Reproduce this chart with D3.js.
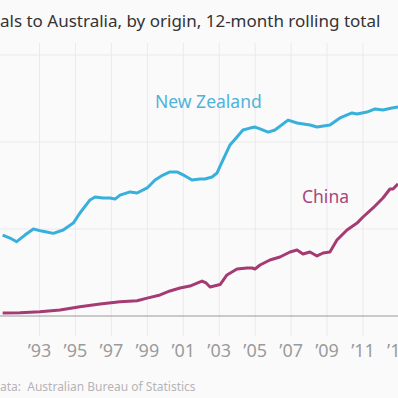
<!DOCTYPE html>
<html>
<head>
<meta charset="utf-8">
<script src="https://cdn.jsdelivr.net/npm/d3@7"></script>
<style>
  html, body { margin: 0; padding: 0; background: #fbfafb; }
  svg { display: block; font-family: "Noto Sans", "Open Sans", sans-serif; }
</style>
</head>
<body>
<svg id="chart" width="398" height="398"></svg>
<script>
// arrivals, thousands, 12-month rolling total
const nzYears = [1990.95, 1991.36, 1991.73, 1992.19, 1992.66, 1993.12, 1993.4, 1993.77, 1994.32, 1994.88,
  1995.25, 1995.81, 1996.09, 1996.53, 1996.92, 1997.2, 1997.48, 1998.04, 1998.43, 1998.99,
  1999.43, 1999.87, 2000.26, 2000.65, 2001.1, 2001.49, 2001.93, 2002.21, 2002.6, 2002.88,
  2003.21, 2003.6, 2003.99, 2004.32, 2004.71, 2004.99, 2005.27, 2005.72, 2006.1, 2006.83,
  2007.33, 2008.05, 2008.44, 2009.16, 2009.72, 2010.39, 2010.67, 2011.22, 2011.67, 2012.11,
  2012.61, 2012.95];
const nzValues = [465, 448, 427, 465, 500, 488, 483, 475, 494, 534,
  592, 667, 684, 678, 678, 672, 695, 713, 707, 736,
  782, 810, 828, 828, 805, 782, 787, 787, 799, 822,
  897, 983, 1029, 1069, 1080, 1086, 1075, 1057, 1069, 1126,
  1109, 1098, 1086, 1098, 1138, 1167, 1161, 1172, 1190, 1184,
  1195, 1201];

const cnYears = [1990.95, 1991.91, 1993.03, 1994.14, 1995.25, 1996.37, 1997.48, 1998.43, 1998.99, 1999.71,
  2000.26, 2000.82, 2001.37, 2002.04, 2002.27, 2002.49, 2003.05, 2003.43, 2003.99, 2004.55,
  2004.83, 2004.99, 2005.27, 2005.82, 2006.38, 2006.94, 2007.33, 2007.66, 2008.05, 2008.44,
  2008.78, 2009.16, 2009.55, 2010.11, 2010.67, 2011.0, 2011.56, 2012.11, 2012.5, 2012.67,
  2012.95];
const cnValues = [17, 19, 25, 34, 53, 69, 82, 88, 103, 121,
  144, 161, 172, 201, 190, 167, 181, 236, 270, 276,
  276, 270, 293, 322, 339, 368, 379, 356, 368, 345,
  362, 368, 437, 494, 534, 569, 621, 678, 730, 730,
  759];

const tickYears = [1993, 1995, 1997, 1999, 2001, 2003, 2005, 2007, 2009, 2011, 2013];
const gridValues = [500, 1000, 1500];

const titleText = "als to Australia, by origin, 12-month rolling total";
const sourceText = "ata:  Australian Bureau of Statistics";

const svg = d3.select("#chart");

// the picture is a crop, so the plot runs off the left and right edges
const x = d3.scaleLinear().domain([1993, 2011]).range([39.5, 363]);
const y = d3.scaleLinear().domain([0, 1500]).range([316, 55]);

// ── grid ────────────────────────────────────────────
svg.append("g")
  .selectAll("line")
  .data(gridValues)
  .join("line")
  .attr("x1", 0).attr("x2", 398)
  .attr("y1", d => y(d)).attr("y2", d => y(d))
  .attr("stroke", "#ebe9eb").attr("stroke-width", 1);

svg.append("g")
  .selectAll("line")
  .data(tickYears)
  .join("line")
  .attr("x1", d => x(d)).attr("x2", d => x(d))
  .attr("y1", 43).attr("y2", 336)
  .attr("stroke", "#ebe9eb").attr("stroke-width", 1);

// baseline
svg.append("line")
  .attr("x1", 0).attr("x2", 398)
  .attr("y1", y(0)).attr("y2", y(0))
  .attr("stroke", "#9a989a").attr("stroke-width", 1);

// x tick labels ('13 runs off the right edge, as in the crop)
svg.append("g")
  .selectAll("text")
  .data(tickYears)
  .join("text")
  .attr("x", d => x(d))
  .attr("y", 357)
  .attr("text-anchor", "middle")
  .attr("font-size", 18)
  .attr("fill", "#9b9a9b")
  .text(d => "\u2019" + String(d).slice(2));

// ── lines ───────────────────────────────────────────
const line = d3.line()
  .x(d => x(d[0]))
  .y(d => y(d[1]));

svg.append("path")
  .datum(d3.zip(nzYears, nzValues))
  .attr("fill", "none")
  .attr("stroke", "#38b0dc")
  .attr("stroke-width", 3)
  .attr("stroke-linejoin", "round")
  .attr("d", line);

svg.append("path")
  .datum(d3.zip(cnYears, cnValues))
  .attr("fill", "none")
  .attr("stroke", "#a53b73")
  .attr("stroke-width", 3)
  .attr("stroke-linejoin", "round")
  .attr("d", line);

// series labels
svg.append("text")
  .attr("x", 155).attr("y", 108)
  .attr("font-size", 17.5)
  .attr("fill", "#4fb3d9")
  .text("New Zealand");

svg.append("text")
  .attr("x", 302).attr("y", 203)
  .attr("font-size", 17.5)
  .attr("fill", "#a8467a")
  .text("China");

// title + source
svg.append("text")
  .attr("x", 0).attr("y", 27)
  .attr("font-size", 17)
  .attr("fill", "#333")
  .text(titleText);

svg.append("text")
  .attr("x", 0).attr("y", 391)
  .attr("font-size", 12)
  .attr("fill", "#b5b4b5")
  .style("white-space", "pre")
  .text(sourceText);
</script>
</body>
</html>
